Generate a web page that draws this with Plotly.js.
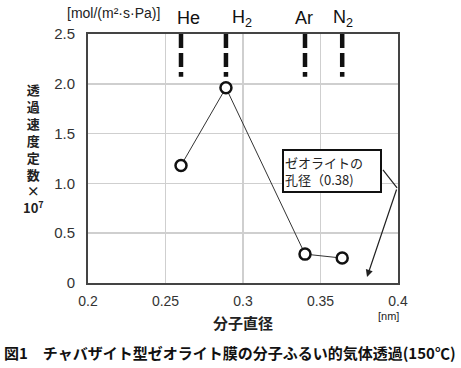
<!DOCTYPE html>
<html><head><meta charset="utf-8">
<script src="https://cdn.plot.ly/plotly-3.0.1.min.js"></script>
<style>html,body{margin:0;padding:0;background:#fff}#c{width:461px;height:368px}</style>
</head><body><div id="c"></div>
<script>
// data
const gases = ['He', 'H<sub>2</sub>', 'Ar', 'N<sub>2</sub>'];
const diameters = [0.26, 0.289, 0.34, 0.364];
const permeance = [1.18, 1.96, 0.29, 0.25];
const xTicks = [0.2, 0.25, 0.3, 0.35, 0.4];
const xTickText = ['0.2', '0.25', '0.3', '0.35', '0.4'];
const yTicks = [0, 0.5, 1.0, 1.5, 2.0, 2.5];
const yTickText = ['0', '0.5', '1.0', '1.5', '2.0', '2.5'];
const poreSize = 0.38;
const yTitleChars = ['透', '過', '速', '度', '定', '数', '×', '10<sup>7</sup>'];

// layout helpers (pixel -> paper)
const L = 88, R = 398, T = 34, B = 283;
const px = p => (p - L) / (R - L);
const py = p => (B - p) / (B - T);
const FONT = 'Liberation Sans, Arial, Noto Sans CJK JP, sans-serif';
const JP = 'Noto Sans CJK JP, sans-serif';

const labelX = [188, 242, 304, 343];
const shapes = diameters.map(d => ({
  type: 'line', xref: 'x', yref: 'y', x0: d, x1: d, y0: 2.5, y1: 2.07,
  line: {color: '#111', width: 4.5, dash: '14px,5px'}
}));
// bent connector from box to arrow start
shapes.push({type: 'line', xref: 'x', yref: 'y', x0: 0.3903, y0: 1.135, x1: 0.3994, y1: 0.954,
  line: {color: '#222', width: 1.2}});

const annotations = [];
gases.forEach((g, i) => annotations.push({
  text: g, xref: 'paper', yref: 'paper', x: px(labelX[i]), y: py(18),
  showarrow: false, xanchor: 'center', yanchor: 'middle',
  font: {family: FONT, size: 18, color: '#111'}
}));
annotations.push({
  text: yTitleChars.join('<br>'), xref: 'paper', yref: 'paper', x: px(33), y: py(148),
  showarrow: false, xanchor: 'center', yanchor: 'middle', align: 'center',
  font: {family: JP, size: 13, color: '#222', weight: 'bold'}
});
annotations.push({text: '[mol/(m²·s·Pa)]', xref: 'paper', yref: 'paper', x: px(113), y: py(13),
  showarrow: false, xanchor: 'center', yanchor: 'middle', font: {family: FONT, size: 14, color: '#222'}});
annotations.push({text: '[nm]', xref: 'paper', yref: 'paper', x: px(388), y: py(316),
  showarrow: false, xanchor: 'center', yanchor: 'middle', font: {family: FONT, size: 11, color: '#222'}});
annotations.push({text: '分子直径', xref: 'paper', yref: 'paper', x: px(243), y: py(322),
  showarrow: false, xanchor: 'center', yanchor: 'middle', font: {family: JP, size: 15, color: '#222', weight: 'bold'}});
annotations.push({text: '図1　チャバザイト型ゼオライト膜の分子ふるい的気体透過(150℃)', xref: 'paper', yref: 'paper',
  x: px(230), y: py(352), showarrow: false, xanchor: 'center', yanchor: 'middle',
  font: {family: JP, size: 15, color: '#111', weight: 'bold'}});
annotations.push({text: 'ゼオライトの<br>孔径（0.38)', xref: 'x', yref: 'y', x: 0.3574, y: 1.125,
  showarrow: false, xanchor: 'center', yanchor: 'middle', align: 'left',
  width: 94, height: 38, borderpad: 1, bordercolor: '#111', borderwidth: 2, bgcolor: '#fff',
  font: {family: JP, size: 13, color: '#222'}});
annotations.push({text: '', xref: 'x', yref: 'y', x: poreSize, y: 0.06, axref: 'x', ayref: 'y',
  ax: 0.3994, ay: 0.954, showarrow: true, arrowhead: 2, arrowsize: 1.2, arrowwidth: 1.2, arrowcolor: '#222'});

const trace = {
  x: diameters, y: permeance, mode: 'lines+markers', type: 'scatter',
  line: {color: '#333', width: 1},
  marker: {symbol: 'circle', size: 11, color: '#fff', line: {color: '#111', width: 2.5}},
  hoverinfo: 'skip'
};

const layout = {
  width: 461, height: 368,
  margin: {l: L, r: 461 - R, t: T, b: 368 - B, pad: 0},
  paper_bgcolor: '#fff', plot_bgcolor: '#fff', showlegend: false,
  font: {family: FONT, size: 14, color: '#333'},
  xaxis: {range: [0.2, 0.4], tickvals: xTicks, ticktext: xTickText, showgrid: true,
    gridcolor: '#cfcfcf', gridwidth: 1.5, zeroline: false, showline: true, linecolor: '#444', linewidth: 2,
    mirror: true, ticks: '', ticklabelstandoff: 4, tickfont: {family: FONT, size: 14, color: '#333'}},
  yaxis: {range: [0, 2.5], tickvals: yTicks, ticktext: yTickText, showgrid: true,
    gridcolor: '#cfcfcf', gridwidth: 1.5, zeroline: false, showline: true, linecolor: '#444', linewidth: 2,
    mirror: true, ticks: '', ticklabelstandoff: 8, tickfont: {family: FONT, size: 15, color: '#333'}},
  shapes: shapes, annotations: annotations
};
Plotly.newPlot('c', [trace], layout, {staticPlot: true, displayModeBar: false});
</script></body></html>
